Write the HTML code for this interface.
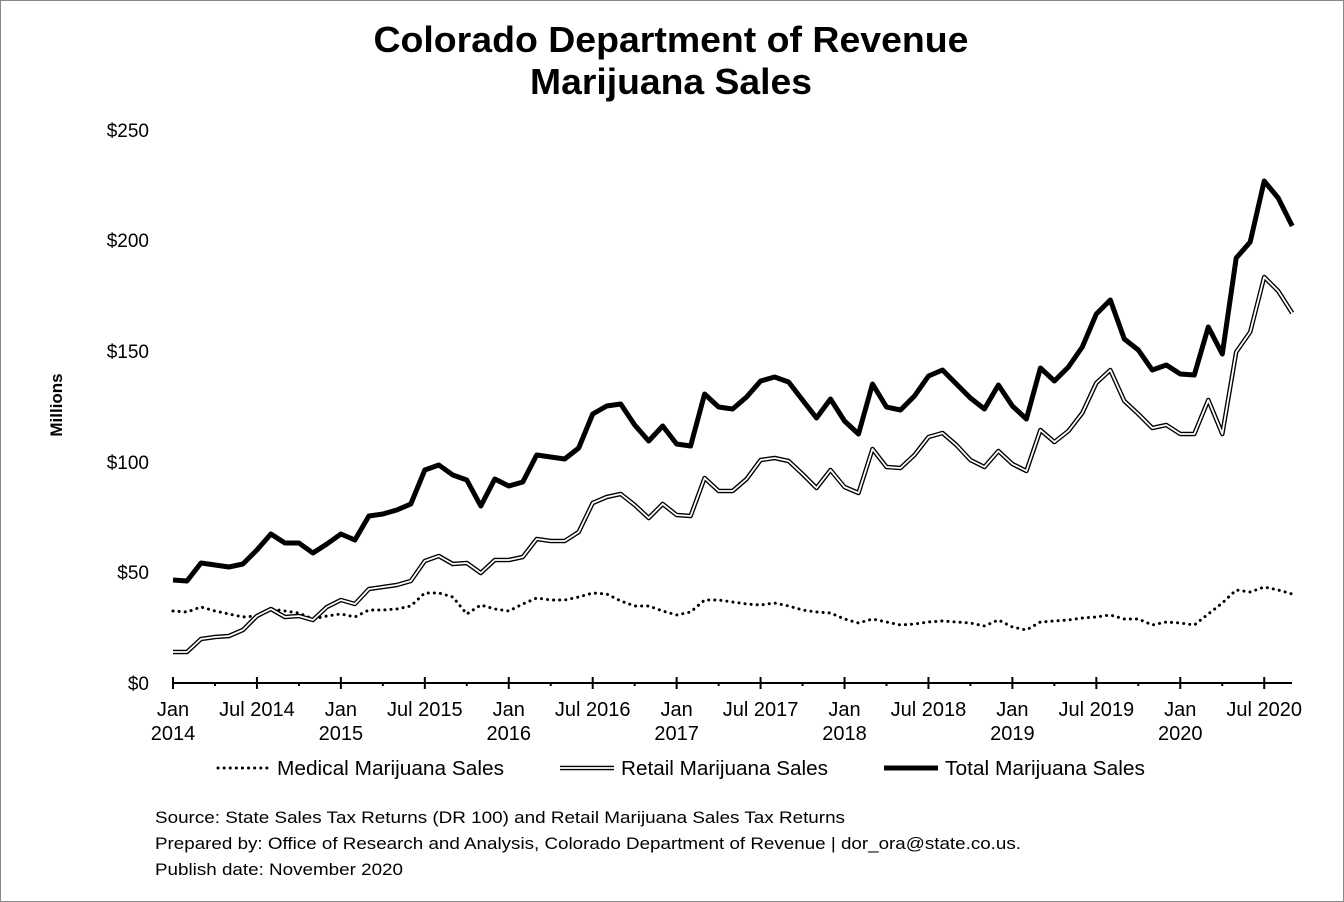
<!DOCTYPE html>
<html><head><meta charset="utf-8"><style>
html,body{margin:0;padding:0;background:#fff;}
svg{display:block;font-family:"Liberation Sans",Arial,sans-serif;}
</style></head><body>
<svg id="s" width="1344" height="902" viewBox="0 0 1344 902" xmlns="http://www.w3.org/2000/svg">
<rect x="0.5" y="0.5" width="1343" height="901" fill="#fff" stroke="#888" stroke-width="1"/>
<text x="671" y="52" text-anchor="middle" font-size="36" font-weight="bold" textLength="595" lengthAdjust="spacingAndGlyphs">Colorado Department of Revenue</text>
<text x="671" y="94" text-anchor="middle" font-size="36" font-weight="bold" textLength="282" lengthAdjust="spacingAndGlyphs">Marijuana Sales</text>
<g font-size="19" text-anchor="end">
<text x="149" y="137">$250</text>
<text x="149" y="247">$200</text>
<text x="149" y="358">$150</text>
<text x="149" y="469">$100</text>
<text x="149" y="579">$50</text>
<text x="149" y="690">$0</text>
</g>
<text transform="translate(62,405) rotate(-90)" text-anchor="middle" font-size="17" font-weight="bold">Millions</text>
<line x1="173" y1="683" x2="1292" y2="683" stroke="#000" stroke-width="2"/>
<g id="ticks" stroke="#000" stroke-width="2"></g>
<g id="xl" font-size="20" text-anchor="middle"></g>
<polyline id="med" fill="none" stroke="#000" stroke-width="3" stroke-dasharray="0.1,6" stroke-linecap="round"/>
<polyline id="ret" fill="none" stroke="#000" stroke-width="4.5" stroke-linejoin="round"/>
<polyline id="ret2" fill="none" stroke="#fff" stroke-width="1.8" stroke-linejoin="round"/>
<polyline id="tot" fill="none" stroke="#000" stroke-width="5" stroke-linejoin="round"/>
<line x1="218" y1="768" x2="270" y2="768" stroke="#000" stroke-width="3" stroke-dasharray="0.1,6" stroke-linecap="round"/>
<text x="277" y="775" font-size="20" textLength="227" lengthAdjust="spacingAndGlyphs">Medical Marijuana Sales</text>
<line x1="560" y1="768" x2="614" y2="768" stroke="#000" stroke-width="4.5"/>
<line x1="560" y1="768" x2="614" y2="768" stroke="#fff" stroke-width="1.8"/>
<text x="621" y="775" font-size="20" textLength="207" lengthAdjust="spacingAndGlyphs">Retail Marijuana Sales</text>
<line x1="884" y1="768" x2="938" y2="768" stroke="#000" stroke-width="5"/>
<text x="945" y="775" font-size="20" textLength="200" lengthAdjust="spacingAndGlyphs">Total Marijuana Sales</text>
<g font-size="17">
<text x="155" y="823" textLength="690" lengthAdjust="spacingAndGlyphs">Source: State Sales Tax Returns (DR 100) and Retail Marijuana  Sales Tax Returns</text>
<text x="155" y="849" textLength="866" lengthAdjust="spacingAndGlyphs">Prepared by:  Office of Research and Analysis, Colorado Department of Revenue | dor_ora@state.co.us.</text>
<text x="155" y="875" textLength="248" lengthAdjust="spacingAndGlyphs">Publish date: November 2020</text>
</g>
</svg>
<script>
var tot=[580,581,563,565,567,564,550,534,543,543,553,544,534,540,516,514,510,504,470,465,475,480,506,479,486,482,455,457,459,448,414,406,404,425,441,426,444,446,394,407,409,397,381,377,382,400,418,399,421,434,384,407,410,396,376,370,384,398,409,385,406,419,368,381,367,347,314,300,339,350,370,365,374,375,327,354,258,242,181,198,226];
var ret=[652,652,639,637,636,630,616,609,617,616,620,607,600,604,589,587,585,581,561,556,564,563,573,560,560,557,539,541,541,532,503,497,494,505,518,504,515,516,478,491,491,479,460,458,461,474,488,470,487,493,449,467,468,455,437,433,445,460,467,451,464,471,430,442,431,413,383,370,401,414,428,425,434,434,400,434,352,332,277,291,313];
var med=[611,612,607,611,614,617,616,609,611,613,619,616,614,617,610,610,609,606,593,593,597,614,605,609,611,604,598,600,600,597,593,594,601,606,606,611,615,612,600,600,602,604,605,603,606,610,612,613,619,623,619,622,625,624,622,621,622,623,626,620,627,630,622,621,620,618,617,615,619,619,625,622,623,625,614,603,590,592,587,590,594];
function pts(a){return a.map(function(y,i){return (173+i*13.99).toFixed(1)+","+y}).join(" ");}
document.getElementById("tot").setAttribute("points",pts(tot));
document.getElementById("ret").setAttribute("points",pts(ret));
document.getElementById("ret2").setAttribute("points",pts(ret));
document.getElementById("med").setAttribute("points",pts(med));
var ns="http://www.w3.org/2000/svg",tk=document.getElementById("ticks"),xl=document.getElementById("xl");
for(var i=0;i<=80;i+=3){var x=173+i*13.99;var l=document.createElementNS(ns,"line");l.setAttribute("x1",x);l.setAttribute("x2",x);
if(i%6==0){l.setAttribute("y1",677);l.setAttribute("y2",689);}else{l.setAttribute("y1",683);l.setAttribute("y2",686);}
tk.appendChild(l);
if(i%6) continue;
var yr=2014+Math.floor(i/12);var t1=document.createElementNS(ns,"text");t1.setAttribute("x",x);t1.setAttribute("y",716);
if(i%12==0){t1.textContent="Jan";var t2=document.createElementNS(ns,"text");t2.setAttribute("x",x);t2.setAttribute("y",740);t2.textContent=yr;xl.appendChild(t2);}else{t1.textContent="Jul "+yr;}
xl.appendChild(t1);}
</script>
</body></html>
